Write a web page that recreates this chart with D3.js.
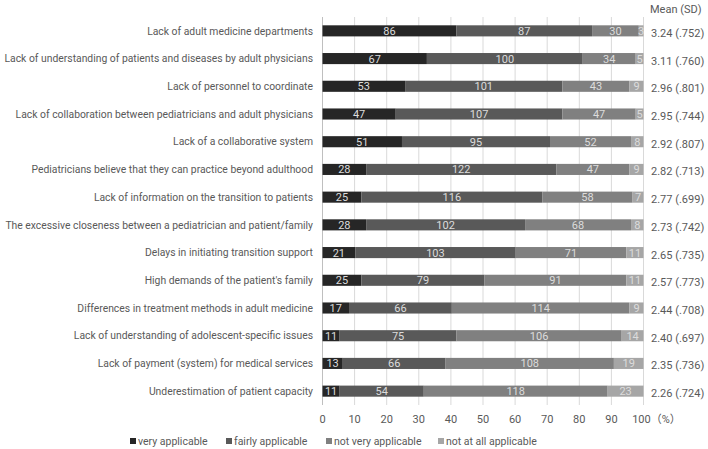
<!DOCTYPE html>
<html><head><meta charset="utf-8">
<script src="https://cdn.jsdelivr.net/npm/d3@7"></script>
<style>body{margin:0;background:#fff;} svg{display:block;font-family:Roboto,"Noto Sans CJK JP",sans-serif;}</style>
</head><body>
<svg id="c" width="708" height="449"></svg>
<script>
const categories = [
  "Lack of adult medicine departments",
  "Lack of understanding of patients and diseases by adult physicians",
  "Lack of personnel to coordinate",
  "Lack of collaboration between pediatricians and adult physicians",
  "Lack of a collaborative system",
  "Pediatricians believe that they can practice beyond adulthood",
  "Lack of information on the transition to patients",
  "The excessive closeness between a pediatrician and patient/family",
  "Delays in initiating transition support",
  "High demands of the patient's family",
  "Differences in treatment methods in adult medicine",
  "Lack of understanding of adolescent-specific issues",
  "Lack of payment (system) for medical services",
  "Underestimation of patient capacity"
];
const seriesNames = ["very applicable","fairly applicable","not very applicable","not at all applicable"];
const veryApplicable   = [86,67,53,47,51,28,25,28,21,25,17,11,13,11];
const fairlyApplicable = [87,100,101,107,95,122,116,102,103,79,66,75,66,54];
const notVery          = [30,34,43,47,52,47,58,68,71,91,114,106,108,118];
const notAtAll         = [3,5,9,5,8,9,7,8,11,11,9,14,19,23];
const means = ["3.24","3.11","2.96","2.95","2.92","2.82","2.77","2.73","2.65","2.57","2.44","2.40","2.35","2.26"];
const sds   = [".752",".760",".801",".744",".807",".713",".699",".742",".735",".773",".708",".697",".736",".724"];
const xTicks = [0,10,20,30,40,50,60,70,80,90,100];
const colors = ["#262626","#595959","#808080","#a6a6a6"];

const svg = d3.select("#c");
const x = d3.scaleLinear().domain([0,100]).range([322.5,643.5]);
const y = d3.scaleBand().domain(categories).range([17,405]).paddingInner(0.6).paddingOuter(0.3);

const rows = categories.map((c,i)=>{
  const vals=[veryApplicable[i],fairlyApplicable[i],notVery[i],notAtAll[i]];
  const tot=d3.sum(vals); let acc=0;
  return vals.map((v,k)=>{const s={cat:c,k,v,x0:acc/tot*100,x1:(acc+v)/tot*100}; acc+=v; return s;});
});

// gridlines
svg.append("g").selectAll("line").data(xTicks).join("line")
  .attr("x1",d=>x(d)).attr("x2",d=>x(d)).attr("y1",17).attr("y2",405)
  .attr("stroke",d=>d===0?"#bfbfbf":"#d9d9d9").attr("stroke-width",1);

// bars
const g = svg.append("g");
rows.forEach(r=>{
  g.selectAll(null).data(r).join("rect")
    .attr("x",d=>x(d.x0)).attr("width",d=>x(d.x1)-x(d.x0))
    .attr("y",d=>y(d.cat)).attr("height",y.bandwidth())
    .attr("fill",d=>colors[d.k]);
  g.selectAll(null).data(r).join("text")
    .attr("x",d=>(x(d.x0)+x(d.x1))/2).attr("y",d=>y(d.cat)+y.bandwidth()/2)
    .attr("dy","0.36em").attr("text-anchor","middle")
    .attr("font-size",11).attr("fill","#dcdcdc").text(d=>d.v);
});

// category labels
const cl = svg.append("g").selectAll("text").data(categories).join("text")
  .attr("x",313).attr("y",d=>y(d)+y.bandwidth()/2).attr("dy","0.36em")
  .attr("text-anchor","end").attr("font-size",11).attr("fill","#595959").text(d=>d);
let maxLen=0; cl.each(function(){maxLen=Math.max(maxLen,this.getComputedTextLength());});
const fs = Math.min(11, 11*309/maxLen);
cl.attr("font-size",fs);

// mean/sd
const hd = svg.append("text").attr("x",650).attr("y",9).attr("dy","0.36em").attr("font-size",11).attr("fill","#595959").text("Mean (SD)");
const ms = svg.append("g").selectAll("text").data(categories).join("text")
  .attr("x",651).attr("y",d=>y(d)+y.bandwidth()/2+2).attr("dy","0.36em")
  .attr("font-size",11).attr("fill","#595959").text((d,i)=>means[i]+" ("+sds[i]+")");
let mLen=0; ms.each(function(){mLen=Math.max(mLen,this.getComputedTextLength());});
if(mLen>55){ ms.attr("font-size",11*55/mLen); }
const hLen = hd.node().getComputedTextLength();
if(hLen>56){ hd.attr("font-size",11*56/hLen); }

// x axis labels
svg.append("g").selectAll("text").data(xTicks).join("text")
  .attr("x",d=>x(d)+(d===100?13:0)).attr("y",419).attr("dy","0.36em")
  .attr("text-anchor","middle").attr("font-size",11).attr("fill","#595959")
  .text(d=>d===100?"100（%）":d);

// legend
const legX=[130,226,326,438];
const lg = svg.append("g").selectAll("g").data(seriesNames).join("g")
  .attr("transform",(d,i)=>`translate(${legX[i]},441)`);
lg.append("rect").attr("x",0).attr("y",-3).attr("width",6).attr("height",6).attr("fill",(d,i)=>colors[i]);
lg.append("text").attr("x",8).attr("y",0).attr("dy","0.36em").attr("font-size",10.5).attr("fill","#595959").text(d=>d);
</script>
</body></html>
